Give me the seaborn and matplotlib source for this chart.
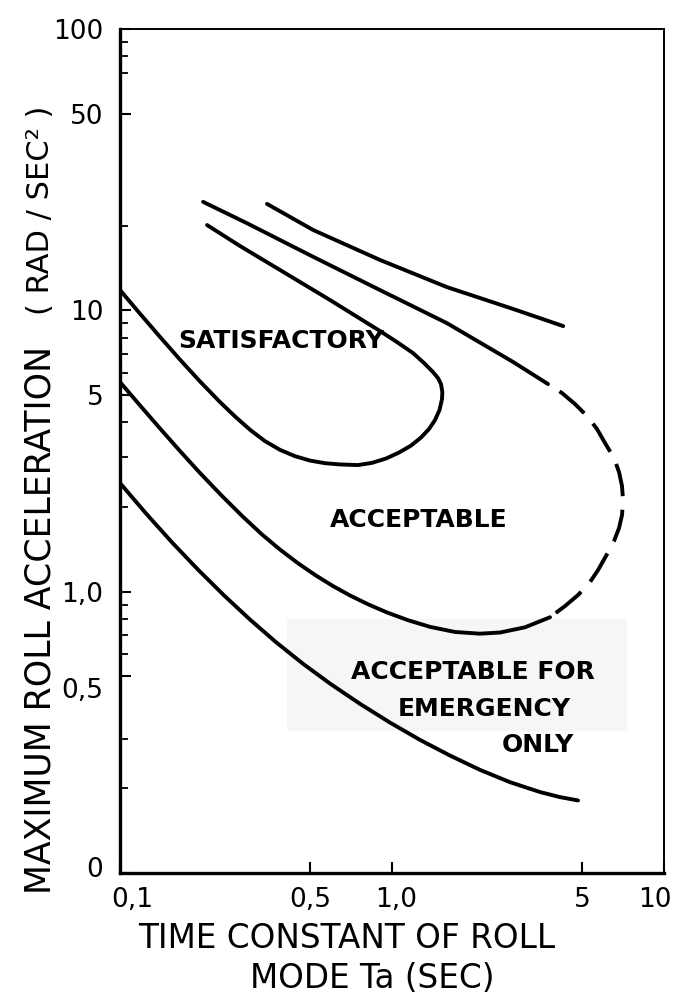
import matplotlib
matplotlib.use("Agg")
import matplotlib.pyplot as plt
from matplotlib.ticker import FixedLocator, FixedFormatter, NullFormatter, NullLocator
from matplotlib.transforms import ScaledTranslation
from matplotlib.patches import Rectangle
import pandas as pd
import seaborn as sns

# Time constant of roll mode (s) vs. maximum roll acceleration (rad/s^2)
# Boundary of the "satisfactory" region (closed loop, opening to the left)
sat_x = [0.100, 0.1185, 0.1403, 0.1662, 0.1968, 0.2331, 0.2647, 0.3006, 0.3413, 0.3876,
         0.4398, 0.4995, 0.5672, 0.6437, 0.7499, 0.8443, 0.9504, 1.061, 1.175, 1.278,
         1.368, 1.439, 1.495, 1.527, 1.531, 1.514, 1.476, 1.415, 1.311, 1.194, 1.043,
         0.9035, 0.5918, 0.3876, 0.2762, 0.2089]
sat_y = [11.81, 9.725, 8.045, 6.679, 5.589, 4.721, 4.196, 3.763, 3.428, 3.192,
         3.031, 2.924, 2.862, 2.833, 2.818, 2.870, 2.973, 3.122, 3.306, 3.530,
         3.785, 4.074, 4.421, 4.838, 5.125, 5.470, 5.745, 6.034, 6.501, 7.051, 7.714,
         8.441, 10.88, 13.91, 16.93, 20.10]

# Boundary of the "acceptable" region: upper solid branch, dashed closure, lower solid branch
acc_upper_x = [0.202, 0.293, 0.513, 0.904, 1.59, 2.79, 3.746]
acc_upper_y = [24.3, 20.4, 15.5, 11.8, 9.01, 6.55, 5.470]

acc_dash_x = [3.746, 3.975, 4.217, 4.708, 5.212, 5.672, 6.069, 6.550, 6.833, 7.009, 7.069,
              7.009, 6.833, 6.550, 6.121, 5.720, 5.346, 4.829, 4.325, 3.810]
acc_dash_y = [5.470, 5.272, 5.082, 4.644, 4.210, 3.785, 3.376, 2.985, 2.662, 2.374, 2.117,
              1.872, 1.683, 1.513, 1.339, 1.193, 1.082, 0.9725, 0.8888, 0.8110]

acc_lower_x = [0.100, 0.1185, 0.1403, 0.1662, 0.1968, 0.2371, 0.2833, 0.3327, 0.3876, 0.4513,
               0.5210, 0.6068, 0.7008, 0.8162, 0.9585, 1.145, 1.380, 1.704, 2.106, 2.495,
               3.083, 3.810]
acc_lower_y = [5.562, 4.590, 3.804, 3.161, 2.642, 2.189, 1.845, 1.597, 1.411, 1.262,
               1.147, 1.047, 0.9694, 0.9020, 0.8435, 0.7918, 0.7497, 0.7190, 0.7090, 0.7158,
               0.7471, 0.8110]

# Upper limit line (high acceleration side)
upper_x = [0.347, 0.513, 0.904, 1.59, 2.79, 4.26]
upper_y = [23.9, 19.3, 15.1, 12.1, 10.11, 8.79]

# Lower boundary of the "acceptable for emergency only" region
emerg_x = [0.100, 0.1246, 0.1553, 0.1936, 0.2412, 0.3006, 0.3747, 0.4709, 0.5918, 0.7627,
           0.9832, 1.267, 1.634, 2.106, 2.715, 3.500, 4.146, 4.829]
emerg_y = [2.433, 1.897, 1.497, 1.197, 0.9701, 0.7958, 0.6612, 0.5542, 0.4713, 0.3993,
           0.3425, 0.2973, 0.2615, 0.2326, 0.2103, 0.1940, 0.1861, 0.1811]

# Axis ticks and labels
x_ticks = [0.1, 0.5, 1.0, 5, 10]
x_tick_labels = ["0,1", "0,5", "1,0", "5", "10"]
y_ticks = [0.1, 0.5, 1.0, 5, 10, 50, 100]
y_tick_labels = ["0", "0,5", "1,0", "5", "10", "50", "100"]
y_minor_ticks = [0.2, 0.3, 0.6, 0.7, 0.8, 0.9, 2, 3, 4, 6, 7, 8, 9, 20, 70, 80, 90]

sns.set_theme(style="ticks")
plt.rcParams["font.family"] = ["DejaVu Sans"]

W, H = 677, 1001
fig = plt.figure(figsize=(W / 100, H / 100), dpi=100)
fig.patch.set_facecolor("white")
ax = fig.add_axes([120 / W, 1 - 873 / H, (664 - 120) / W, (873 - 29) / H])
ax.set_facecolor("white")
ax.set_xscale("log")
ax.set_yscale("log")
ax.set_xlim(0.1, 10)
ax.set_ylim(0.1, 100)

LW = 2.8


def curve(x, y, dashed=False):
    df = pd.DataFrame({"x": x, "y": y})
    kw = dict(color="black", linewidth=LW, solid_capstyle="round", solid_joinstyle="round")
    if dashed:
        # pattern starts with a gap so the dashes stand clear of the solid branches
        kw.update(linestyle=(8.5, (8.5, 3.5)), dash_capstyle="butt")
    sns.lineplot(data=df, x="x", y="y", sort=False, estimator=None, ax=ax, **kw)


# faint paper patch behind the emergency-only caption
ax.add_patch(Rectangle((0.41, 0.32), 7.3 - 0.41, 0.80 - 0.32, facecolor="#f6f6f6",
                       edgecolor="none", zorder=0))

curve(sat_x, sat_y)
curve(acc_upper_x, acc_upper_y)
curve(acc_dash_x, acc_dash_y, dashed=True)
curve(acc_lower_x, acc_lower_y)
curve(upper_x, upper_y)
curve(emerg_x, emerg_y)

# Region captions
cap = dict(color="black", fontsize=18, fontweight="bold", ha="center", va="center")
ax.text(0.391, 7.78, "SATISFACTORY", **cap)
ax.text(1.256, 1.80, "ACCEPTABLE", **cap)
ax.text(1.99, 0.518, "ACCEPTABLE FOR", **cap)
ax.text(2.18, 0.383, "EMERGENCY", **cap)
ax.text(3.44, 0.285, "ONLY", **cap)

# Ticks
ax.xaxis.set_major_locator(FixedLocator(x_ticks))
ax.xaxis.set_major_formatter(FixedFormatter(x_tick_labels))
ax.xaxis.set_minor_locator(NullLocator())
ax.yaxis.set_major_locator(FixedLocator(y_ticks))
ax.yaxis.set_major_formatter(FixedFormatter(y_tick_labels))
ax.yaxis.set_minor_locator(FixedLocator(y_minor_ticks))
ax.yaxis.set_minor_formatter(NullFormatter())
ax.tick_params(axis="both", which="major", direction="in", length=8, width=1.5,
               colors="black", labelsize=19, top=False, right=False)
ax.tick_params(axis="x", which="major", pad=10)
ax.tick_params(axis="y", which="major", pad=12)
ax.tick_params(axis="y", which="minor", direction="in", length=6, width=1.3,
               colors="black", right=False)

# nudge the end labels inward, as lettered on the original sheet
fig.canvas.draw()
x_shift = {"0,1": 12, "1,0": 4, "10": -9}
y_shift = {"0,5": -12, "0": 6}
for lab in ax.get_xticklabels():
    dx = x_shift.get(lab.get_text(), 0)
    if dx:
        lab.set_transform(lab.get_transform() + ScaledTranslation(dx / 100, 0, fig.dpi_scale_trans))
for lab in ax.get_yticklabels():
    dy = y_shift.get(lab.get_text(), 0)
    if dy:
        lab.set_transform(lab.get_transform() + ScaledTranslation(0, dy / 100, fig.dpi_scale_trans))

for side in ("left", "bottom"):
    ax.spines[side].set_linewidth(2.4)
for side in ("top", "right"):
    ax.spines[side].set_linewidth(1.4)
for sp in ax.spines.values():
    sp.set_color("black")
    sp.set_visible(True)

ax.set_xlabel("")
ax.set_ylabel("")

# Axis titles
fig.text(347 / W, 1 - 938 / H, "TIME CONSTANT OF ROLL", fontsize=23.5,
         ha="center", va="center", color="black")
fig.text(372 / W, 1 - 979 / H, "MODE Ta (SEC)", fontsize=23.5,
         ha="center", va="center", color="black")
fig.text(41 / W, 1 - 620 / H, "MAXIMUM ROLL ACCELERATION", fontsize=25,
         rotation=90, ha="center", va="center", color="black")
fig.text(41 / W, 1 - 210 / H, "( RAD / SEC\u00b2 )", fontsize=22,
         rotation=90, ha="center", va="center", color="black")

fig.savefig("out.png", dpi=100, facecolor="white")
